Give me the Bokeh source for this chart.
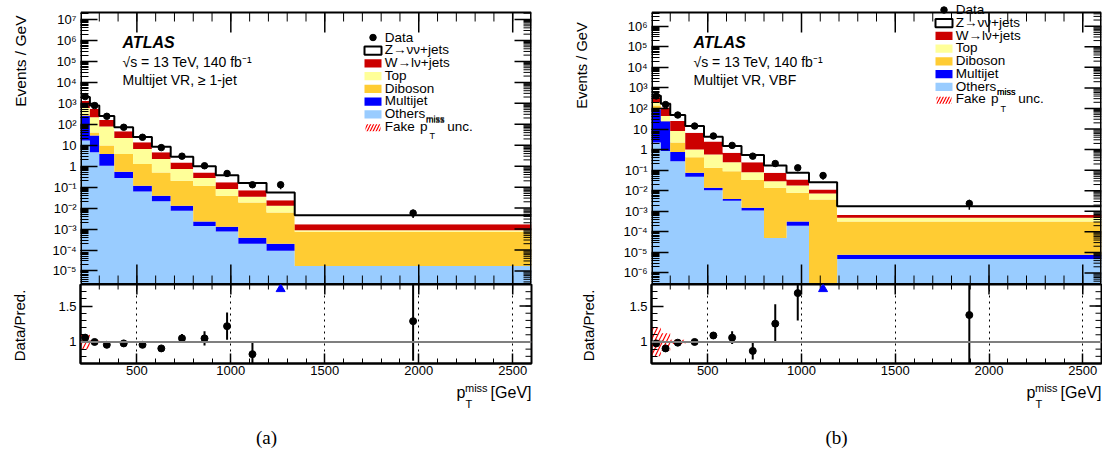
import numpy as np
from bokeh.plotting import figure
from bokeh.layouts import row, column
from bokeh.models import Range1d, FixedTicker, CustomJSTickFormatter, Label, Span
from bokeh.embed import file_html
from bokeh.resources import INLINE
from bokeh.core.properties import value

FONT = "Liberation Sans"
SERIF = "Liberation Serif"

# ---------------- data ----------------
# (a) Multijet VR, >= 1-jet
edges_a = [200, 250, 300, 380, 480, 580, 680, 800, 920, 1040, 1190, 1340, 2600]
others_a = [17, 4.6, 1.05, 0.27, 0.062, 0.021, 0.0075, 0.0014, 7.6e-4, 2.0e-4, 9.1e-5, 1.74e-5]
multijet_a = [240, 24.4, 2.75, 0.28, 0.055, 0.018, 0.0055, 0.0009, 5.4e-4, 1.9e-4, 1.09e-4, 0]
diboson_a = [43, 12, 5.8, 3.25, 1.15, 0.46, 0.187, 0.115, 0.0377, 0.0182, 0.006, 7.2e-4]
top_a = [300, 174, 68, 18.2, 5.3, 1.7, 0.53, 0.153, 0.042, 0.0164, 0.0068, 1.5e-4]
wjets_a = [700, 335, 84, 24, 7.2, 2.4, 0.77, 0.23, 0.089, 0.037, 0.011, 8.1e-4]
zjets_a = [680, 230, 88, 27, 11.2, 3.9, 1.35, 0.50, 0.20, 0.085, 0.032, 0.0028]
data_a = [2100, 780, 240, 72, 24, 7.7, 3.0, 1.05, 0.45, 0.13, 0.13, 0.0058]
ratio_a = [1.06, 1.00, 0.96, 0.98, 0.96, 0.91, 1.05, 1.05, 1.22, 0.83, 2.3, 1.29]
ratio_err_a = [0.02, 0.015, 0.015, 0.015, 0.02, 0.03, 0.06, 0.10, 0.19, 0.17, 0.9, 0.55]
fake_unc_a = [0.10, 0.02, 0.015, 0.005, 0.004, 0.003, 0.003, 0.003, 0.003, 0.003, 0.003, 0.003]

# (b) Multijet VR, VBF
edges_b = [200, 250, 300, 380, 480, 580, 680, 800, 920, 1040, 1190, 2600]
others_b = [2.2, 0.85, 0.275, 0.048, 0.0106, 0.0033, 0.0011, 5e-5, 2.0e-4, 0, 4.8e-6]
multijet_b = [89, 23.2, 0.485, 0.027, 0.0032, 0.0007, 0.0004, 0, 1.2e-4, 0, 2.9e-6]
diboson_b = [49, 0.5, 1.44, 0.345, 0.116, 0.085, 0.0315, 0.0138, 0.0076, 0.0037, 3.1e-4]
top_b = [60, 18.5, 5.8, 0.58, 0.45, 0.156, 0.047, 0.015, 0.0101, 0.0036, 1.7e-4]
wjets_b = [150, 67, 16.5, 5.6, 1.92, 0.465, 0.165, 0.046, 0.017, 0.0042, 1.7e-4]
zjets_b = [65, 60, 23.5, 7.4, 1.7, 0.79, 0.305, 0.095, 0.040, 0.0145, 0.00109]
data_b = [407, 155, 48, 14, 4.6, 1.6, 0.48, 0.21, 0.13, 0.055, 0.0024]
ratio_b = [0.98, 0.91, 0.99, 1.00, 1.09, 1.06, 0.875, 1.255, 1.68, 2.1, 1.375]
ratio_err_b = [0.02, 0.02, 0.02, 0.03, 0.05, 0.09, 0.12, 0.27, 0.38, 0.8, 0.7]
fake_unc_b = [0.20, 0.12, 0.03, 0.01, 0.005, 0.004, 0.003, 0.003, 0.003, 0.003, 0.003]

legend_labels = ["Data", "Z\u2192\u03bd\u03bd+jets", "W\u2192l\u03bd+jets", "Top", "Diboson",
                 "Multijet", "Others"]
x_major = [500, 1000, 1500, 2000, 2500]
x_minor = [200, 300, 400, 500, 600, 700, 800, 900, 1000, 1100, 1200, 1300, 1400, 1500,
           1600, 1700, 1800, 1900, 2000, 2100, 2200, 2300, 2400, 2500, 2600]
r_major = [1.0, 1.5]
r_minor = [0.7, 0.8, 0.9, 1.0, 1.1, 1.2, 1.3, 1.4, 1.5, 1.6, 1.7, 1.8]
y_major = [10.0 ** k for k in range(-8, 9)]
y_minor = [m * 10.0 ** k for k in range(-8, 9) for m in range(2, 10)]

XMIN, XMAX = 200, 2600
RMIN, RMAX = 0.7, 1.8
RH = 79
PAGE_H = 451
COLORS = dict(others="#99ccff", multijet="#0000ff", diboson="#ffcc33",
              top="#ffff99", wjets="#cc0000", zjets="#ffffff")

log_fmt = CustomJSTickFormatter(code="""
const e = Math.round(Math.log10(tick));
if (e === 0) return "1";
if (e === 1) return "10";
const sup = {"-":"\u207b","0":"\u2070","1":"\u00b9","2":"\u00b2","3":"\u00b3","4":"\u2074",
             "5":"\u2075","6":"\u2076","7":"\u2077","8":"\u2078","9":"\u2079"};
return "10" + String(e).split("").map(c => sup[c]).join("");
""")
r_fmt = CustomJSTickFormatter(code="return String(tick);")


def style_axis(ax, major_in, minor_in, size="13px", standoff=4):
    ax.major_tick_in = major_in
    ax.major_tick_out = 0
    ax.minor_tick_in = minor_in
    ax.minor_tick_out = 0
    ax.axis_line_width = 2
    ax.axis_line_color = "black"
    ax.major_tick_line_width = 1.5
    ax.minor_tick_line_width = 1
    ax.major_tick_line_color = "black"
    ax.minor_tick_line_color = "black"
    ax.major_label_text_font = FONT
    ax.major_label_text_font_size = size
    ax.major_label_standoff = standoff
    ax.major_label_text_color = "black"


def side_ticks(fig, fx, fy, fw, fh, xt, yt):
    """Inward ticks on the frame sides that carry no labels."""
    for side, ticks, length in xt:
        for vals, ln, lw in ((ticks[0], length[0], 1.5), (ticks[1], length[1], 1)):
            vals = [v for v in vals if XMIN < v < XMAX]
            if side == "top":
                y0, y1 = fy(0), fy(ln)
            else:
                y0, y1 = fy(fh), fy(fh - ln)
            fig.segment(x0=vals, x1=vals, y0=[y0] * len(vals), y1=[y1] * len(vals),
                        line_color="black", line_width=lw)
    if yt is not None:
        ticks, length, lo, hi = yt
        for vals, ln, lw in ((ticks[0], length[0], 1.5), (ticks[1], length[1], 1)):
            vals = [v for v in vals if lo < v < hi]
            fig.segment(x0=[fx(fw)] * len(vals), x1=[fx(fw - ln)] * len(vals), y0=vals, y1=vals,
                        line_color="black", line_width=lw)


def title_strip(width, texts):
    """Vertical axis titles, drawn in page-pixel coordinates (y measured from the top)."""
    s = figure(width=width, height=PAGE_H, x_range=Range1d(0, width),
               y_range=Range1d(0, PAGE_H), x_axis_location=None, y_axis_location=None,
               min_border=0, toolbar_location=None, output_backend="svg")
    s.grid.visible = False
    s.outline_line_color = None
    for txt, x, y, align, size in texts:
        s.text(x=[x], y=[PAGE_H - y], text=[txt], angle=np.pi / 2, text_align=align,
               text_baseline="middle", text_font=value(FONT), text_font_size=size,
               text_color="black")
    return s


def build(cfg):
    edges = cfg["edges"]
    n = len(edges) - 1
    lefts, rights = edges[:-1], edges[1:]
    centers = [(a + b) / 2 for a, b in zip(lefts, rights)]
    fw, fh, ext = cfg["fw"], cfg["fh"], cfg["ext"]
    lmin, lmax = cfg["lrange"]
    lmax_ext = lmax + ext / fh * (lmax - lmin)

    def fx(dx):
        return XMIN + dx / fw * (XMAX - XMIN)

    def fy(dy):  # dy: pixels below the visible top edge of the frame
        return 10 ** (lmax - dy / fh * (lmax - lmin))

    ytop = 10 ** lmax
    p = figure(frame_width=fw, frame_height=fh + ext,
               x_range=Range1d(XMIN, XMAX), y_range=Range1d(10 ** lmin, 10 ** lmax_ext),
               y_axis_type="log", x_axis_location=None,
               output_backend="svg", toolbar_location=None,
               min_border_left=cfg["bl"], min_border_right=cfg["br"],
               min_border_top=cfg["bt"], min_border_bottom=0)
    p.grid.visible = False
    p.outline_line_color = None

    ym = [v for v in y_major if v <= ytop]
    yn = [v for v in y_minor if v <= ytop]
    p.yaxis.ticker = FixedTicker(ticks=ym, minor_ticks=yn)
    p.yaxis.formatter = log_fmt
    style_axis(p.yaxis[0], 17, 8, size="13px", standoff=4)
    p.yaxis.axis_line_color = None

    # stacked backgrounds
    cum = np.full(n, 1e-12)
    for key, vals in cfg["stack"]:
        bottom = cum.copy()
        cum = cum + np.asarray(vals, float)
        p.varea_step(x=edges, y1=list(bottom) + [bottom[-1]], y2=list(cum) + [cum[-1]],
                     step_mode="after", fill_color=COLORS[key])
    total = cum
    fake = np.asarray(cfg["fake"], float)
    p.quad(left=lefts, right=rights, bottom=total * (1 - fake), top=total * (1 + fake),
           fill_alpha=0, line_color=None, hatch_pattern="/", hatch_color="red",
           hatch_weight=1, hatch_scale=6)
    p.step(x=edges, y=list(total) + [total[-1]], mode="after",
           line_color="black", line_width=2)

    data = np.asarray(cfg["data"], float)
    ratio = np.asarray(cfg["ratio"], float)
    rerr = np.asarray(cfg["rerr"], float)
    rel = rerr / ratio
    p.segment(x0=centers, x1=centers, y0=data * np.maximum(1 - rel, 1e-3),
              y1=data * (1 + rel), line_color="black", line_width=1.5)
    p.scatter(centers, data, size=6.5, color="black")

    side_ticks(p, fx, fy, fw, fh,
               [("top", (x_major, x_minor), (20, 9)), ("bottom", (x_major, x_minor), (20, 9))],
               ((y_major, y_minor), (17, 8), 10 ** lmin, ytop))
    # frame border (visible part of the frame)
    p.quad(left=[fx(0.5)], right=[fx(fw - 0.5)], top=[fy(0)], bottom=[fy(fh - 0.5)],
           fill_alpha=0, line_color="black", line_width=2)

    # ATLAS labels
    for txt, dy, style, sz in [("ATLAS", cfg["atlas_dy"], "bold italic", "16px"),
                                ("\u221as = 13 TeV, 140 fb\u207b\u00b9", cfg["atlas_dy"] + 20, "normal", "14px"),
                                (cfg["region"], cfg["atlas_dy"] + 38, "normal", "14px")]:
        p.add_layout(Label(x=fx(42), y=fy(dy), text=txt, text_font=FONT, text_font_style=style,
                           text_font_size=sz, text_baseline="middle", text_color="black"))

    # legend
    ld = cfg["leg_dy"]
    rows = [ld + 12.75 * i for i in range(8)]
    bx0, bx1, tx0 = 284, 301, 304.3
    for i, lab in enumerate(legend_labels):
        p.add_layout(Label(x=fx(tx0), y=fy(rows[i]), text=lab, text_font=FONT,
                           text_font_size="13.5px", text_baseline="middle", text_color="black"))
    p.scatter([fx((bx0 + bx1) / 2)], [fy(rows[0] + 0.5)], size=6.5, color="black")
    keys = ["zjets", "wjets", "top", "diboson", "multijet", "others"]
    for i, key in enumerate(keys):
        p.quad(left=[fx(bx0)], right=[fx(bx1)], top=[fy(rows[i + 1] - 3.3)],
               bottom=[fy(rows[i + 1] + 5.0)], fill_color=COLORS[key],
               line_color="black" if key == "zjets" else None, line_width=2)
    p.quad(left=[fx(bx0 + 1)], right=[fx(bx1 - 1)], top=[fy(rows[7] - 2)],
           bottom=[fy(rows[7] + 5)], fill_alpha=0, line_color=None,
           hatch_pattern="/", hatch_color="red", hatch_weight=1.2, hatch_scale=6)
    for txt, dx, dy, sz in [("Fake", tx0, rows[7], "13.5px"), ("p", 339.5, rows[7], "13.5px"),
                            ("miss", 345.5, rows[7] - 7, "9px"), ("T", 349, rows[7] + 10, "9px"),
                            ("unc.", 366.7, rows[7], "13.5px"),
                            ("miss", 345.5, rows[6] + 6, "9px")]:
        p.add_layout(Label(x=fx(dx), y=fy(dy), text=txt, text_font=FONT, text_font_size=sz,
                           text_baseline="middle", text_color="black"))

    # ---------------- ratio panel ----------------
    def ry(dy):
        return RMAX - dy / RH * (RMAX - RMIN)

    r = figure(frame_width=fw, frame_height=RH, x_range=p.x_range,
               y_range=Range1d(RMIN, RMAX), output_backend="svg", toolbar_location=None,
               min_border_left=cfg["bl"], min_border_right=cfg["br"],
               min_border_top=0, min_border_bottom=cfg["rbb"])
    r.outline_line_color = "black"
    r.outline_line_width = 2
    r.ygrid.visible = False
    r.xgrid.ticker = FixedTicker(ticks=x_major)
    r.xgrid.grid_line_color = "black"
    r.xgrid.grid_line_dash = "dotted"
    r.xgrid.grid_line_width = 1
    r.xaxis.ticker = FixedTicker(ticks=x_major, minor_ticks=x_minor)
    style_axis(r.xaxis[0], 10, 5, size="13px", standoff=2)
    r.yaxis.ticker = FixedTicker(ticks=r_major, minor_ticks=r_minor)
    r.yaxis.formatter = r_fmt
    style_axis(r.yaxis[0], 12, 6, size="13px", standoff=4)
    side_ticks(r, fx, ry, fw, RH, [("top", (x_major, x_minor), (10, 5))],
               ((r_major, r_minor), (12, 6), RMIN, RMAX))

    r.quad(left=lefts, right=rights, bottom=1 - fake, top=1 + fake, fill_alpha=0,
           line_color=None, hatch_pattern="/", hatch_color="red", hatch_weight=1.2,
           hatch_scale=8)
    r.add_layout(Span(location=1.0, dimension="width", line_color="#7f7f7f", line_width=2))
    ok = ratio <= RMAX
    cx = np.asarray(centers)
    r.segment(x0=cx[ok], x1=cx[ok], y0=(ratio - rerr)[ok], y1=(ratio + rerr)[ok],
              line_color="black", line_width=2)
    r.scatter(cx[ok], ratio[ok], size=7, color="black")
    r.scatter(cx[~ok], [ry(4.5)] * int((~ok).sum()), marker="triangle", size=9,
              color="#0000ff")

    # ---------------- caption strip (frame-relative pixel coordinates) ----------------
    chh = cfg["caph"]
    cap = figure(width=cfg["bl"] + fw + cfg["br"], height=chh,
                 x_range=Range1d(0, fw), y_range=Range1d(chh, 0),
                 x_axis_location=None, y_axis_location=None, output_backend="svg",
                 toolbar_location=None, min_border_left=cfg["bl"],
                 min_border_right=cfg["br"], min_border_top=0, min_border_bottom=0)
    cap.grid.visible = False
    cap.outline_line_color = None
    y0 = cfg["cap_top"]
    for txt, x, y, sz, al in [("p", fw - 75, 392 - y0, "16px", "left"),
                              ("miss", fw - 66.5, 387.5 - y0, "11px", "left"),
                              ("T", fw - 66, 403 - y0, "11px", "left"),
                              ("[GeV]", fw, 392 - y0, "16px", "right")]:
        cap.text(x=[x], y=[y], text=[txt], text_font=value(FONT), text_font_size=sz,
                 text_align=al, text_baseline="alphabetic", text_color="black")
    cap.text(x=[cfg["cap_dx"]], y=[437 - y0], text=[cfg["caption"]],
             text_font=value(SERIF), text_font_size="19px", text_align="center",
             text_baseline="middle", text_color="black")
    return column(p, r, cap, spacing=0)


cfg_a = dict(edges=edges_a,
             stack=[("others", others_a), ("multijet", multijet_a), ("diboson", diboson_a),
                    ("top", top_a), ("wjets", wjets_a), ("zjets", zjets_a)],
             data=data_a, ratio=ratio_a, rerr=ratio_err_a, fake=fake_unc_a,
             fw=451, fh=272, ext=9, lrange=(-5.646, 7.335), bl=52, br=29, bt=3, rbb=18,
             atlas_dy=29.7, leg_dy=24.5,
             region="Multijet VR, \u2265 1-jet", caph=70, cap_top=381,
             cap_dx=186, caption="(a)")
cfg_b = dict(edges=edges_b,
             stack=[("others", others_b), ("multijet", multijet_b), ("diboson", diboson_b),
                    ("top", top_b), ("wjets", wjets_b), ("zjets", zjets_b)],
             data=data_b, ratio=ratio_b, rerr=ratio_err_b, fake=fake_unc_b,
             fw=450, fh=272, ext=9, lrange=(-6.56, 6.667), bl=55, br=1, bt=3, rbb=18,
             atlas_dy=29.7, leg_dy=-3.0,
             region="Multijet VR, VBF", caph=70, cap_top=381,
             cap_dx=185, caption="(b)")

strip_a = title_strip(28, [("Events / GeV", 19.5, 15, "right", "15.5px"),
                           ("Data/Pred.", 18.5, 325, "center", "15px")])
strip_b = title_strip(36, [("Events / GeV", 21.7, 21.7, "right", "14.7px"),
                           ("Data/Pred.", 27.5, 325, "center", "15px")])

layout = row(strip_a, build(cfg_a), strip_b, build(cfg_b), spacing=0)
open("out.html", "w").write(file_html(layout, INLINE))
